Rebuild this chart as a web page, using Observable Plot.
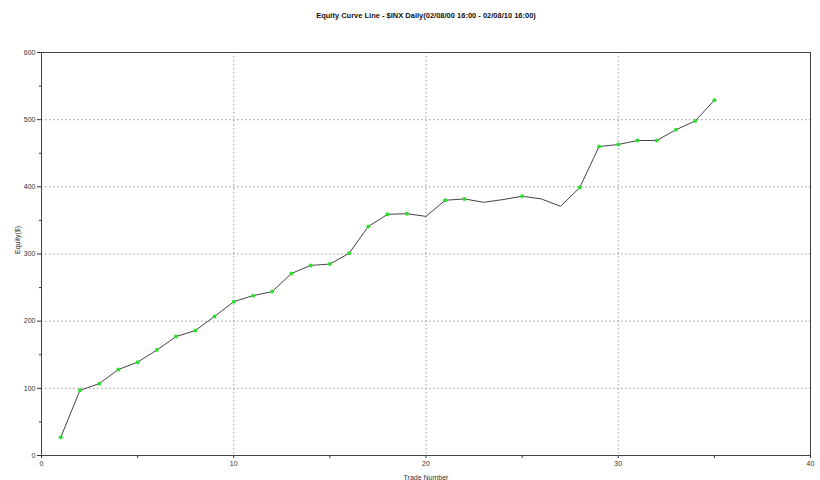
<!DOCTYPE html>
<html>
<head>
<meta charset="utf-8">
<script src="https://cdn.jsdelivr.net/npm/d3@7"></script>
<script src="https://cdn.jsdelivr.net/npm/@observablehq/plot@0.6"></script>
<style>
  html, body { margin: 0; padding: 0; background: #fff; }
  svg { display: block; }
</style>
</head>
<body>
<div id="chart"></div>
<script>
const titleText = "Equity Curve Line - $INX Daily(02/08/00 16:00 - 02/08/10 16:00)";
const xLabel = "Trade Number";
const yLabel = "Equity($)";

const trades = [1,2,3,4,5,6,7,8,9,10,11,12,13,14,15,16,17,18,19,20,21,22,23,24,25,26,27,28,29,30,31,32,33,34,35];
const equity = [27,97,107,128,139,157,177,186,207,229,238,244,271,283,285,301,341,359,360,356,380,382,377,381,386,382,371,399,460,463,469,469,485,498,529];
const markedTrades = [1,2,3,4,5,6,7,8,9,10,11,12,13,14,15,16,17,18,19,21,22,25,28,29,30,31,32,33,34,35];

const xMajor = [0,10,20,30,40];
const xMinor = [5,15,25,35];
const yMajor = [0,100,200,300,400,500,600];
const yMinor = [50,150,250,350,450,550];

const data = trades.map((t, i) => ({trade: t, equity: equity[i]}));
const marked = data.filter(d => markedTrades.includes(d.trade));

const font = "Arial, 'Liberation Sans', sans-serif";

const chart = Plot.plot({
  width: 820,
  height: 480,
  marginLeft: 41,
  marginRight: 10,
  marginTop: 52,
  marginBottom: 25,
  style: {fontFamily: font, fontSize: "7px", color: "#333", background: "#fff"},
  x: {domain: [0, 40]},
  y: {domain: [0, 600]},
  marks: [
    Plot.gridX(xMajor.filter(v => v > 0 && v < 40), {stroke: "#999", strokeOpacity: 1, strokeDasharray: "1.5,2.5"}),
    Plot.gridY(yMajor.filter(v => v > 0 && v < 600), {stroke: "#999", strokeOpacity: 1, strokeDasharray: "1.5,2.5"}),
    Plot.axisX(xMajor, {anchor: "bottom", tickSize: 3, tickPadding: 3, label: null, stroke: "#333", fill: "#333"}),
    Plot.axisX(xMinor, {anchor: "bottom", tickSize: 3, tickFormat: () => "", label: null, stroke: "#333"}),
    Plot.axisY(yMajor, {anchor: "left", tickSize: 4, tickPadding: 2, label: null, stroke: "#333", fill: "#333"}),
    Plot.axisY(yMinor, {anchor: "left", tickSize: 2, tickFormat: () => "", label: null, stroke: "#333"}),
    Plot.frame({stroke: "#444", strokeWidth: 1}),
    Plot.line(data, {x: "trade", y: "equity", stroke: "#444", strokeWidth: 1}),
    Plot.dot(marked, {x: "trade", y: "equity", r: 2, fill: "#2ee02e", stroke: "none"}),
    Plot.text([titleText], {frameAnchor: "top", lineAnchor: "middle", dy: -37, fontWeight: "bold", fontSize: 7.5, fill: "#111"}),
    Plot.text([yLabel], {frameAnchor: "left", dx: -24, rotate: -90, fontSize: 7, fill: "#333"}),
    Plot.text([xLabel], {frameAnchor: "bottom", lineAnchor: "middle", dy: 22, fontSize: 7, fill: "#333"})
  ]
});
document.getElementById("chart").appendChild(chart);
</script>
</body>
</html>
